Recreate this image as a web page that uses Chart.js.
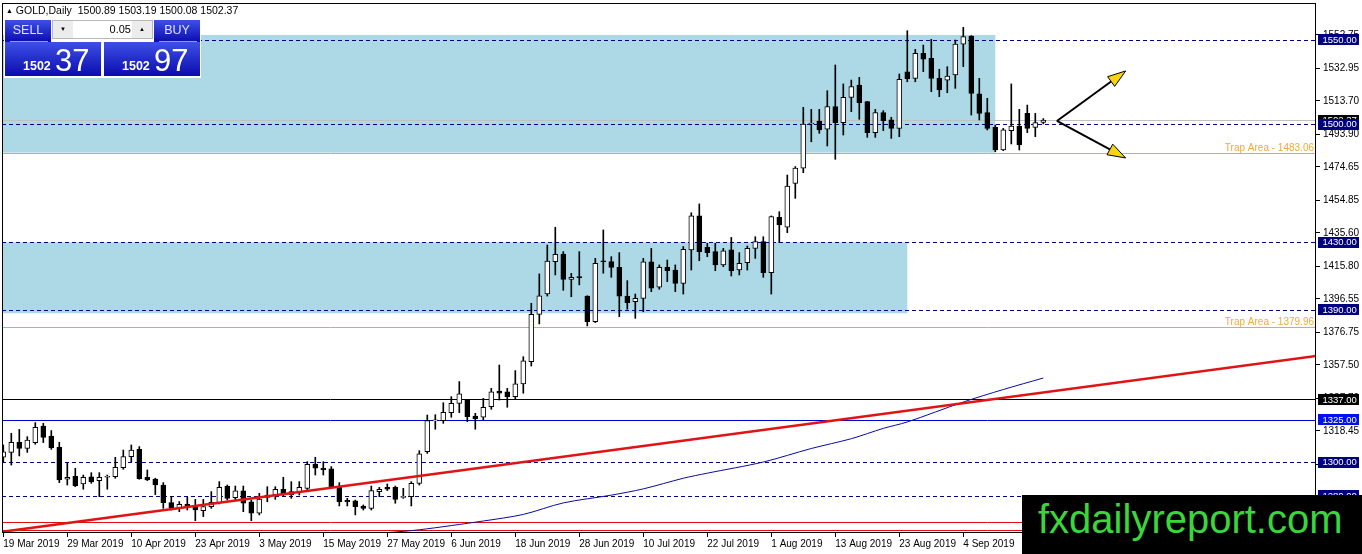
<!DOCTYPE html>
<html>
<head>
<meta charset="utf-8">
<script src="https://cdn.jsdelivr.net/npm/chart.js@4.4.0/dist/chart.umd.min.js"></script>
<style>
  html, body { margin: 0; padding: 0; background: #fff; }
  #wrap { position: relative; width: 1362px; height: 554px; overflow: hidden; font-family: "Liberation Sans", "DejaVu Sans", sans-serif; }
  #box { position: absolute; left: 0; top: 0; width: 1362px; height: 554px; }
  .hdr { position: absolute; left: 6px; top: 4px; font-size: 10.5px; color: #000; white-space: pre; }
  .hdr .tri { font-size: 7px; vertical-align: 1px; }
  #panel { position: absolute; left: 4px; top: 19px; width: 197px; height: 59px; background: #fff; }
  .blue { position: absolute; background: linear-gradient(#3d50e6, #0b0cae); color: #fff; }
  .head { top: 1px; width: 46px; height: 22px; }
  .head span { position: absolute; left: 0; right: 0; top: 4px; text-align: center; font-size: 12.5px; line-height: 1; color: #dfe3ff; }
  .head i { position: absolute; left: 5px; right: 3px; top: 21px; height: 1px; background: #8f99f0; }
  .price { top: 23px; width: 96px; height: 34px; }
  .price .sm { position: absolute; left: 18px; top: 18px; font-size: 12.5px; font-weight: bold; line-height: 1; }
  .price .bg { position: absolute; left: 50px; top: 3px; font-size: 31px; line-height: 1; }
  #spin { position: absolute; left: 48px; top: 1px; width: 101px; height: 19px; background: #fff; border: 1px solid #b8b8b8; box-sizing: border-box; }
  #spin .ar { position: absolute; top: 0; width: 20px; height: 17px; background: #ececec; font-size: 6px; line-height: 17px; text-align: center; color: #000; }
  #spin .lot { position: absolute; left: 21px; width: 57px; top: 3px; text-align: right; font-size: 11px; line-height: 1; }
  #logo { position: absolute; left: 1022px; top: 495px; width: 340px; height: 59px; background: #000; }
  #logo span { position: absolute; left: 16px; top: 1px; font-size: 40px; line-height: 46px; color: #3bd63b; white-space: nowrap; }
</style>
</head>
<body>
<div id="wrap">
  <div id="box"><canvas id="chart"></canvas></div>
  <div class="hdr"><span class="tri">▲</span> GOLD,Daily  1500.89 1503.19 1500.08 1502.37</div>
  <div id="panel">
    <div class="blue head" style="left:1px"><span>SELL</span><i></i></div>
    <div id="spin">
      <div class="ar" style="left:0">▼</div>
      <div class="lot">0.05</div>
      <div class="ar" style="right:0">▲</div>
    </div>
    <div class="blue head" style="left:150px"><span>BUY</span><i></i></div>
    <div class="blue price" style="left:1px"><span class="sm">1502</span><span class="bg">37</span></div>
    <div class="blue price" style="left:100px"><span class="sm">1502</span><span class="bg">97</span></div>
  </div>
  <div id="logo"><span>fxdailyreport.com</span></div>
</div>
<script>
// x axis: bar index of each date label
const xTickIdx = [0, 8, 16, 24, 32, 40, 48, 56, 64, 72, 80, 88, 96, 104, 112, 120];
const xTickText = ['19 Mar 2019', '29 Mar 2019', '10 Apr 2019', '23 Apr 2019', '3 May 2019', '15 May 2019',
    '27 May 2019', '6 Jun 2019', '18 Jun 2019', '28 Jun 2019', '10 Jul 2019', '22 Jul 2019',
    '1 Aug 2019', '13 Aug 2019', '23 Aug 2019', '4 Sep 2019'];
const yTickVals = [1552.75, 1532.95, 1513.70, 1493.90, 1474.65, 1454.85, 1435.60, 1415.80, 1396.55,
    1376.75, 1357.50, 1337.70, 1318.45, 1298.65, 1279.40];

// daily candles, GOLD
const open = [1302.8, 1305.7, 1311.7, 1308.1, 1311.5, 1321.3, 1315.4, 1308.7, 1289.8, 1291.5,
    1287.0, 1291.3, 1289.0, 1291.0, 1291.3, 1296.7, 1303.2, 1307.5, 1291.0, 1289.9,
    1286.4, 1276.0, 1273.0, 1275.0, 1273.6, 1271.2, 1273.6, 1276.0, 1285.8, 1278.9,
    1282.9, 1276.5, 1269.7, 1280.5, 1280.5, 1283.9, 1280.5, 1282.5, 1284.4, 1298.8,
    1296.3, 1295.9, 1285.0, 1277.3, 1277.1, 1274.0, 1272.6, 1282.5, 1285.0, 1285.0,
    1279.1, 1279.5, 1287.4, 1306.1, 1324.3, 1324.5, 1329.2, 1334.7, 1336.7, 1327.2,
    1326.5, 1332.8, 1342.0, 1341.6, 1338.7, 1346.2, 1359.4, 1387.4, 1399.4, 1418.6,
    1423.1, 1408.1, 1409.3, 1398.2, 1383.1, 1418.6, 1418.6, 1415.2, 1398.2, 1394.9,
    1396.8, 1418.4, 1403.4, 1415.2, 1413.6, 1405.7, 1425.5, 1445.6, 1427.0, 1424.5,
    1416.6, 1425.5, 1413.6, 1418.0, 1426.4, 1430.4, 1412.0, 1444.8, 1438.9, 1464.9,
    1473.8, 1500.0, 1501.8, 1496.9, 1510.3, 1500.8, 1515.8, 1523.1, 1513.2, 1494.9,
    1506.7, 1502.4, 1497.4, 1530.9, 1527.0, 1541.8, 1538.9, 1527.0, 1526.0, 1529.0,
    1547.3, 1552.1, 1517.8, 1506.7, 1498.0, 1484.6, 1496.1, 1498.8, 1506.3, 1498.0,
    1500.89];
const high = [1310.1, 1317.0, 1319.3, 1315.0, 1323.3, 1322.9, 1318.6, 1311.7, 1299.6, 1296.3,
    1292.3, 1293.7, 1293.7, 1292.3, 1302.8, 1307.1, 1310.1, 1309.1, 1295.3, 1290.4,
    1287.8, 1279.5, 1276.6, 1279.1, 1277.9, 1277.9, 1282.5, 1288.4, 1286.4, 1285.8,
    1285.8, 1277.5, 1281.5, 1285.4, 1285.4, 1291.0, 1288.4, 1288.4, 1300.2, 1302.8,
    1300.2, 1297.3, 1287.8, 1278.5, 1277.5, 1274.6, 1285.8, 1285.0, 1287.0, 1285.8,
    1284.4, 1288.4, 1306.7, 1327.8, 1328.0, 1335.1, 1338.7, 1347.6, 1337.1, 1328.8,
    1337.7, 1343.6, 1357.4, 1343.6, 1354.1, 1362.3, 1393.9, 1411.3, 1428.4, 1438.9,
    1424.5, 1411.6, 1424.5, 1398.4, 1420.5, 1437.3, 1421.5, 1423.9, 1407.3, 1399.4,
    1420.5, 1426.4, 1416.6, 1419.5, 1416.6, 1427.5, 1447.5, 1452.7, 1429.4, 1429.4,
    1426.4, 1432.9, 1423.9, 1427.8, 1433.3, 1433.3, 1445.6, 1448.1, 1469.8, 1474.8,
    1509.9, 1508.7, 1508.7, 1519.7, 1534.9, 1523.7, 1526.0, 1527.6, 1513.4, 1508.7,
    1507.9, 1504.0, 1529.6, 1555.2, 1544.2, 1546.7, 1550.1, 1532.4, 1533.9, 1549.7,
    1557.2, 1552.3, 1527.0, 1515.2, 1499.4, 1497.4, 1523.7, 1508.7, 1511.2, 1506.3,
    1503.19];
const low = [1300.2, 1298.2, 1303.6, 1305.7, 1310.5, 1311.5, 1307.5, 1287.8, 1286.4, 1285.4,
    1283.9, 1287.4, 1279.5, 1283.9, 1290.4, 1295.7, 1300.2, 1289.8, 1289.0, 1280.7,
    1272.6, 1271.6, 1270.6, 1271.6, 1265.3, 1267.7, 1272.6, 1275.2, 1277.5, 1277.5,
    1270.6, 1265.3, 1268.7, 1276.5, 1277.9, 1279.5, 1278.5, 1280.5, 1283.5, 1292.3,
    1292.3, 1284.4, 1274.0, 1274.0, 1268.7, 1271.6, 1271.6, 1279.5, 1283.1, 1275.6,
    1278.5, 1274.0, 1286.4, 1305.1, 1319.4, 1322.9, 1326.5, 1329.2, 1323.9, 1319.4,
    1324.9, 1331.2, 1336.7, 1332.4, 1337.1, 1340.7, 1356.8, 1381.7, 1398.2, 1410.7,
    1401.6, 1397.8, 1404.8, 1380.5, 1382.5, 1411.7, 1409.3, 1386.0, 1390.4, 1385.0,
    1388.9, 1400.8, 1402.2, 1406.7, 1400.8, 1399.4, 1413.6, 1419.1, 1421.5, 1413.2,
    1415.6, 1410.1, 1410.7, 1413.6, 1420.5, 1409.3, 1399.4, 1429.8, 1435.7, 1456.0,
    1471.2, 1489.5, 1494.5, 1487.0, 1479.1, 1493.5, 1507.3, 1502.8, 1492.1, 1492.1,
    1496.1, 1491.5, 1492.5, 1525.0, 1525.0, 1531.0, 1519.1, 1516.2, 1518.5, 1521.1,
    1533.9, 1505.3, 1502.4, 1496.5, 1483.6, 1484.2, 1488.2, 1484.6, 1494.9, 1492.5,
    1500.08];
const close = [1306.1, 1311.7, 1308.1, 1313.0, 1320.5, 1314.6, 1308.5, 1289.4, 1291.0, 1286.0,
    1291.0, 1288.2, 1291.0, 1291.2, 1296.9, 1303.2, 1307.1, 1290.2, 1289.4, 1286.4,
    1276.0, 1273.0, 1275.0, 1273.6, 1271.6, 1273.6, 1276.2, 1285.0, 1278.5, 1282.9,
    1275.6, 1269.7, 1278.1, 1279.1, 1283.9, 1280.5, 1282.5, 1285.0, 1298.6, 1296.3,
    1295.3, 1285.0, 1276.5, 1276.5, 1273.6, 1272.6, 1283.1, 1283.9, 1283.9, 1277.9,
    1279.3, 1287.4, 1304.8, 1324.5, 1324.8, 1329.4, 1334.7, 1340.3, 1326.9, 1325.6,
    1332.4, 1341.6, 1340.7, 1338.7, 1346.2, 1359.8, 1387.4, 1398.4, 1418.9, 1422.9,
    1408.0, 1409.3, 1409.1, 1383.1, 1417.6, 1418.4, 1415.2, 1398.2, 1394.3, 1396.8,
    1418.4, 1402.8, 1415.2, 1413.2, 1405.7, 1425.9, 1445.6, 1424.5, 1423.9, 1416.6,
    1424.9, 1413.2, 1417.6, 1426.4, 1430.4, 1412.0, 1445.2, 1440.3, 1463.3, 1473.9,
    1500.0, 1500.3, 1496.5, 1510.3, 1500.8, 1515.8, 1522.1, 1512.6, 1494.9, 1506.7,
    1502.0, 1497.4, 1526.4, 1526.8, 1541.8, 1538.3, 1527.0, 1520.1, 1528.4, 1547.3,
    1551.7, 1518.1, 1506.3, 1497.4, 1484.6, 1496.5, 1498.8, 1487.6, 1497.4, 1500.8,
    1502.37];

// moving average (read at a few bars)
const maIdx = [48, 52, 60, 65, 70, 76, 80, 85, 88, 95, 101, 106, 110, 113, 120, 125, 130];
const maVal = [1258.2, 1259.9, 1265.1, 1269.0, 1275.8, 1280.4, 1284.1, 1290.4, 1293.4, 1300.0,
    1308.0, 1313.8, 1319.9, 1323.7, 1335.5, 1342.9, 1349.7];

// red trend line, two anchor points
const trendIdx = [0, 160];
const trendVal = [1258.8, 1360.1];

// horizontal objects
const dashLevels = [1550, 1500, 1430, 1390, 1300, 1280];
const trapLevels = [1483.06, 1379.96];
const lastPrice = 1502.37;
const blackLevel = 1337;
const blueLevel = 1325;
const redLevels = [1264.5, 1259.8];

// rectangles (top, bottom, last bar)
const zoneTop = [1552.7, 1430];
const zoneBottom = [1483.06, 1388];
const zoneEnd = [124, 113];

// arrows
const arrowFrom = [131.7, 1501.8];
const arrowTo = [[140.3, 1531.4], [140.3, 1479.9]];

const X_MIN = -0.1625, X_MAX = 164.0875;
const FONT = 'Liberation Sans';

const idx = open.map((v, i) => i);
const trendSlope = (trendVal[1] - trendVal[0]) / (trendIdx[1] - trendIdx[0]);
const trendLine = [X_MIN - 1, X_MAX + 1].map(x => ({x: x, y: trendVal[0] + (x - trendIdx[0]) * trendSlope}));

// rectangles, level lines and labels
const objects = {
    id: 'objects',
    beforeDatasetsDraw(chart) {
        const ctx = chart.ctx, a = chart.chartArea;
        const xs = chart.scales.x, ys = chart.scales.y;
        ctx.save();
        ctx.beginPath();
        ctx.rect(a.left, a.top, a.right - a.left, a.bottom - a.top);
        ctx.clip();

        ctx.fillStyle = '#add8e6';
        for (let k = 0; k < zoneTop.length; k++) {
            const t = ys.getPixelForValue(zoneTop[k]);
            const b = ys.getPixelForValue(zoneBottom[k]);
            ctx.fillRect(a.left, t, xs.getPixelForValue(zoneEnd[k]) - a.left, b - t);
        }

        function hline(v, color, dash, w) {
            const y = Math.round(ys.getPixelForValue(v)) + 0.5;
            ctx.strokeStyle = color;
            ctx.lineWidth = w || 1;
            ctx.setLineDash(dash || []);
            ctx.beginPath();
            ctx.moveTo(a.left, y);
            ctx.lineTo(a.right, y);
            ctx.stroke();
        }
        hline(lastPrice, '#c0c0c0');
        dashLevels.forEach(v => hline(v, '#000080', [4, 3]));
        trapLevels.forEach(v => hline(v, '#eeae14'));
        hline(blackLevel, '#000000');
        hline(blueLevel, '#0000d0');
        redLevels.forEach(v => hline(v, '#e01010'));
        ctx.setLineDash([]);

        ctx.font = '10px "' + FONT + '"';
        ctx.fillStyle = '#f2a93b';
        ctx.textAlign = 'right';
        ctx.textBaseline = 'alphabetic';
        trapLevels.forEach(v => {
            ctx.fillText('Trap Area - ' + v.toFixed(2), a.right - 2, ys.getPixelForValue(v) - 2);
        });
        ctx.restore();
    },
    afterDatasetsDraw(chart) {
        const ctx = chart.ctx;
        const xs = chart.scales.x, ys = chart.scales.y;
        const x1 = xs.getPixelForValue(arrowFrom[0]), y1 = ys.getPixelForValue(arrowFrom[1]);
        ctx.save();
        arrowTo.forEach(p => {
            const x2 = xs.getPixelForValue(p[0]), y2 = ys.getPixelForValue(p[1]);
            const ang = Math.atan2(y2 - y1, x2 - x1), L = 18, W = 6;
            const bx = x2 - L * Math.cos(ang), by = y2 - L * Math.sin(ang);
            ctx.strokeStyle = '#000';
            ctx.lineWidth = 2;
            ctx.beginPath();
            ctx.moveTo(x1, y1);
            ctx.lineTo(bx, by);
            ctx.stroke();
            ctx.beginPath();
            ctx.moveTo(x2, y2);
            ctx.lineTo(bx - W * Math.sin(ang), by + W * Math.cos(ang));
            ctx.lineTo(bx + W * Math.sin(ang), by - W * Math.cos(ang));
            ctx.closePath();
            ctx.fillStyle = '#f7d40c';
            ctx.fill();
            ctx.lineWidth = 1;
            ctx.stroke();
        });
        ctx.restore();
    },
    afterDraw(chart) {
        const ctx = chart.ctx, a = chart.chartArea;
        const ys = chart.scales.y;
        ctx.save();
        // frame
        ctx.strokeStyle = '#000';
        ctx.lineWidth = 1;
        ctx.strokeRect(a.left + 0.5, a.top + 0.5, a.right - a.left - 1, a.bottom - a.top - 1);

        // price labels on the right
        const tags = [[1550, '#000080'], [lastPrice, '#000000'], [1500, '#000080'], [1430, '#000080'],
            [1390, '#000080'], [blackLevel, '#000000'], [blueLevel, '#0010f0'], [1300, '#000080'], [1280, '#000080']];
        ctx.font = '9.5px "' + FONT + '"';
        ctx.textAlign = 'left';
        ctx.textBaseline = 'middle';
        tags.forEach(t => {
            const y = ys.getPixelForValue(t[0]);
            ctx.fillStyle = t[1];
            ctx.fillRect(a.right + 2, Math.round(y - 5.5), 41, 11);
            ctx.fillStyle = '#fff';
            ctx.fillText(t[0].toFixed(2), a.right + 6.5, y + 0.5);
        });
        ctx.restore();
    }
};

new Chart(document.getElementById('chart'), {
    type: 'bar',
    data: {
        datasets: [{
            label: 'wicks',
            data: idx.map(i => ({x: i, y: [low[i], high[i]]})),
            backgroundColor: '#000',
            barThickness: 1,
            grouped: false,
            order: 3
        }, {
            label: 'bodies',
            data: idx.map(i => ({x: i, y: [open[i], close[i]]})),
            backgroundColor: c => close[c.dataIndex] >= open[c.dataIndex] ? '#ffffff' : '#000000',
            borderColor: '#000',
            borderWidth: 1,
            borderSkipped: false,
            barThickness: 5,
            minBarLength: 1,
            grouped: false,
            order: 2
        }, {
            type: 'line',
            label: 'MA',
            data: maIdx.map((x, k) => ({x: x, y: maVal[k]})),
            borderColor: '#0a0aa0',
            borderWidth: 1,
            pointRadius: 0,
            tension: 0.3,
            order: 1
        }, {
            type: 'line',
            label: 'trend',
            data: trendLine,
            borderColor: '#e01414',
            borderWidth: 2.5,
            pointRadius: 0,
            order: 0
        }]
    },
    options: {
        responsive: true,
        maintainAspectRatio: false,
        animation: false,
        layout: {padding: {left: 2, top: 3, right: 0, bottom: 0}},
        plugins: {
            legend: {display: false},
            tooltip: {enabled: false}
        },
        scales: {
            x: {
                type: 'linear',
                min: X_MIN,
                max: X_MAX,
                offset: false,
                afterBuildTicks: s => { s.ticks = xTickIdx.map(v => ({value: v})); },
                afterFit: s => { s.height = 21; s.paddingLeft = 0; s.paddingRight = 0; },
                grid: {display: true, drawOnChartArea: false, drawTicks: true, tickLength: 4, color: '#000', offset: false},
                border: {display: false},
                ticks: {
                    autoSkip: false,
                    maxRotation: 0,
                    align: 'start',
                    padding: 1,
                    color: '#000',
                    font: {family: FONT, size: 10},
                    callback: v => xTickText[xTickIdx.indexOf(v)]
                }
            },
            y: {
                type: 'linear',
                position: 'right',
                min: 1258.0,
                max: 1571.6,
                afterBuildTicks: s => { s.ticks = yTickVals.map(v => ({value: v})); },
                afterFit: s => { s.width = 46; s.paddingTop = 0; s.paddingBottom = 0; },
                grid: {drawOnChartArea: false, drawTicks: true, tickLength: 4, color: '#000'},
                border: {display: false},
                ticks: {
                    padding: 3,
                    color: '#000',
                    font: {family: FONT, size: 10},
                    callback: v => Number(v).toFixed(2)
                }
            }
        }
    },
    plugins: [objects]
});
</script>
</body>
</html>
